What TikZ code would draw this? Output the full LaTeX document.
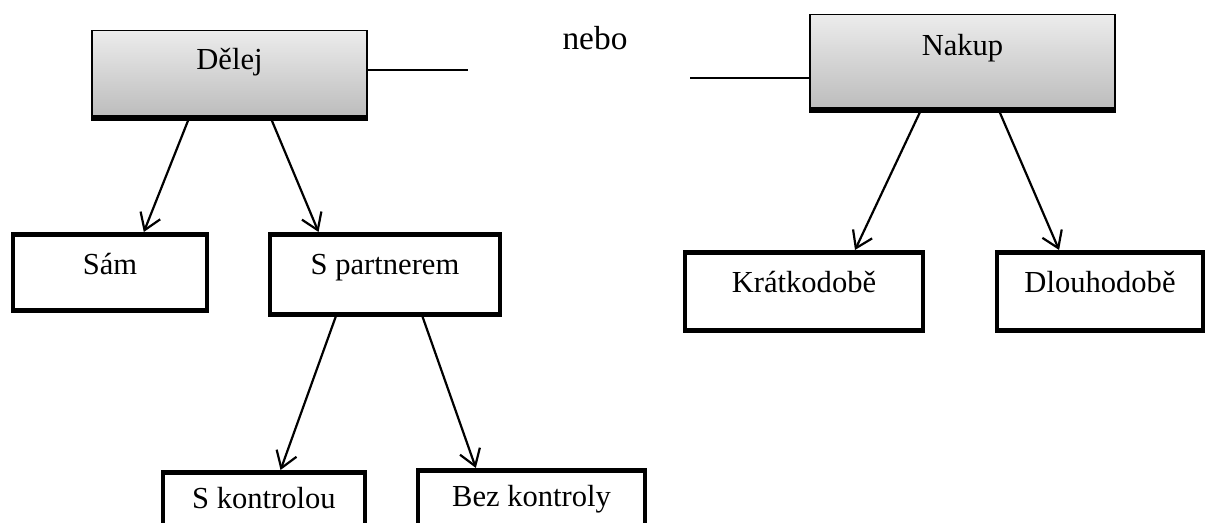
\documentclass[tikz,border=0pt]{standalone}
\usepackage{fontspec}
\setmainfont{Liberation Serif}
\usetikzlibrary{arrows.meta,calc}
\tikzset{
      choicebox/.style={
        draw=black,
        line width=0.8pt,
        top color=gray!15,
        bottom color=gray!52,
        anchor=north,
        inner sep=0pt,
        text height=22pt,
        font=\fontsize{17.4}{20}\selectfont
      },
      leafbox/.style={
        draw=black,
        line width=2.8pt,
        fill=white,
        anchor=north,
        inner sep=0pt,
        text height=23pt,
        font=\fontsize{17.4}{20}\selectfont
      },
      branch/.style={-{Straight Barb[length=9pt,width=12pt]}, line width=1.25pt}
    }

\begin{document}
\begin{tikzpicture}[x=0.02cm,y=-0.02cm]
    \useasboundingbox (0,0) rectangle (1208,523);
    % top choices
    \node[choicebox, minimum width=5.5cm, text depth=26.4pt] (delej) at (229.5,30) {Dělej};
    \node[choicebox, minimum width=6.1cm, text height=23pt, text depth=29.9pt] (nakup) at (962.5,14) {Nakup};
    \draw[line width=2.6pt] ([yshift=-1.3pt]delej.south west) -- ([yshift=-1.3pt]delej.south east);
    \draw[line width=2.6pt] ([yshift=-1.3pt]nakup.south west) -- ([yshift=-1.3pt]nakup.south east);
    \node[font=\fontsize{19}{22}\selectfont, anchor=base] (nebo) at (595,50) {nebo};
    \coordinate (orL) at (468,70);
    \coordinate (orR) at (690,78);
    \draw[line width=0.9pt] (delej.east |- orL) -- (orL);
    \draw[line width=0.9pt] (orR) -- (nakup.west |- orR);
    % second level
    \node[leafbox, minimum width=3.88cm, text depth=20.2pt] (sam) at (110,232) {Sám};
    \node[leafbox, minimum width=4.6cm, text depth=22.5pt] (partner) at (385,232) {S partnerem};
    \node[leafbox, minimum width=4.76cm, text depth=21.3pt] (kratko) at (804,250) {Krátkodobě};
    \node[leafbox, minimum width=4.12cm, text depth=21.3pt] (dlouho) at (1100,250) {Dlouhodobě};
    % third level
    \node[leafbox, minimum width=4.04cm, text height=20.5pt, text depth=30pt] (skontr) at (264,470) {S kontrolou};
    \node[leafbox, minimum width=4.54cm, text height=20.5pt, text depth=30pt] (bezkontr) at (531.5,468) {Bez kontroly};
    \draw[branch] ($(delej.south west)!0.356!(delej.south east)$) -- ($(sam.north west)!0.67!(sam.north east)$);
    \draw[branch] ($(delej.south west)!0.647!(delej.south east)$) -- ($(partner.north west)!0.217!(partner.north east)$);
    \draw[branch] ($(partner.south west)!0.29!(partner.south east)$) -- ($(skontr.north west)!0.58!(skontr.north east)$);
    \draw[branch] ($(partner.south west)!0.66!(partner.south east)$) -- ($(bezkontr.north west)!0.26!(bezkontr.north east)$);
    \draw[branch] ($(nakup.south west)!0.367!(nakup.south east)$) -- ($(kratko.north west)!0.71!(kratko.north east)$);
    \draw[branch] ($(nakup.south west)!0.616!(nakup.south east)$) -- ($(dlouho.north west)!0.306!(dlouho.north east)$);
    \end{tikzpicture}
\end{document}
